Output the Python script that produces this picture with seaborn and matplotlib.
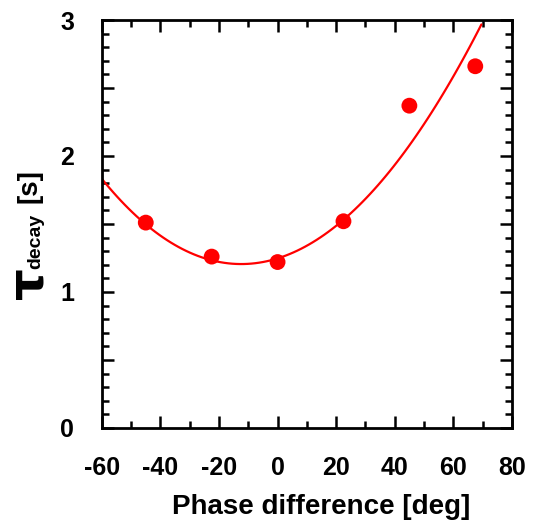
import numpy as np
import pandas as pd
import matplotlib
matplotlib.use("Agg")
import matplotlib.pyplot as plt
import seaborn as sns
from matplotlib.ticker import MultipleLocator

# measured points
phase = [-45, -22.5, 0, 22.5, 45, 67.5]
tau = [1.51, 1.26, 1.22, 1.52, 2.37, 2.66]

# fit curve
curve_x = [-60, -45, -22.5, -10, 0, 14.4, 22.5, 31.5, 48.6, 69.6]
curve_y = [1.82, 1.51, 1.26, 1.206, 1.215, 1.37, 1.52, 1.77, 2.19, 2.96]

x_ticks = [-60, -40, -20, 0, 20, 40, 60, 80]
y_ticks = [0, 0.5, 1, 1.5, 2, 2.5, 3]
y_labels = ["0", "", "1", "", "2", "", "3"]

sns.set_style("ticks")
plt.rcParams['font.family'] = ['Liberation Sans', 'DejaVu Sans']
plt.rcParams['font.weight'] = 'bold'
plt.rcParams['axes.unicode_minus'] = False
plt.rcParams['text.color'] = 'black'
plt.rcParams['axes.labelcolor'] = 'black'
plt.rcParams['xtick.color'] = 'black'
plt.rcParams['ytick.color'] = 'black'

fig = plt.figure(figsize=(5.36, 5.27), dpi=100)
ax = fig.add_axes([0.190, 0.188, 0.765, 0.774])

df = pd.DataFrame({"phase": phase, "tau": tau})
cf = pd.DataFrame({"x": curve_x, "y": curve_y})

sns.regplot(data=cf, x="x", y="y", order=3, ci=None, scatter=False, truncate=True,
            line_kws={"color": "#ff0000", "lw": 1.6}, ax=ax)
sns.scatterplot(data=df, x="phase", y="tau", color="#ff0000", s=130, edgecolor="none",
                zorder=3, ax=ax)

ax.set_xlim(-60, 80)
ax.set_ylim(0, 3)
ax.set_xticks(x_ticks)
ax.set_yticks(y_ticks)
ax.set_yticklabels(y_labels)
ax.xaxis.set_minor_locator(MultipleLocator(10))
ax.yaxis.set_minor_locator(MultipleLocator(0.1))

ax.tick_params(which="both", direction="in", top=True, right=True, width=1.8)
ax.tick_params(which="major", length=8.6)
ax.tick_params(which="minor", length=5)
ax.tick_params(axis="x", which="major", labelsize=18, pad=20)
ax.tick_params(axis="y", which="major", labelsize=18, pad=20)
for lab in ax.get_xticklabels() + ax.get_yticklabels():
    lab.set_fontweight("bold")

for sp in ax.spines.values():
    sp.set_linewidth(2)
    sp.set_color("black")

ax.set_xlabel("Phase difference [deg]", fontsize=20, fontweight="bold", va="center")
ax.xaxis.set_label_coords(0.535, -0.194)
ax.set_ylabel("")

# y label pieces: big tau, subscript, unit
H = 527.0
W = 536.0
fig.text(29 / W, 1 - 283 / H, "τ", rotation=90, fontsize=36, fontweight="bold",
         family="DejaVu Sans", ha="center", va="center")
fig.text(36 / W, 1 - 241 / H, "decay", rotation=90, fontsize=14, fontweight="bold",
         ha="center", va="center")
fig.text(30 / W, 1 - 186 / H, "[s]", rotation=90, fontsize=20, fontweight="bold",
         ha="center", va="center")

fig.savefig("out.png", dpi=100)
